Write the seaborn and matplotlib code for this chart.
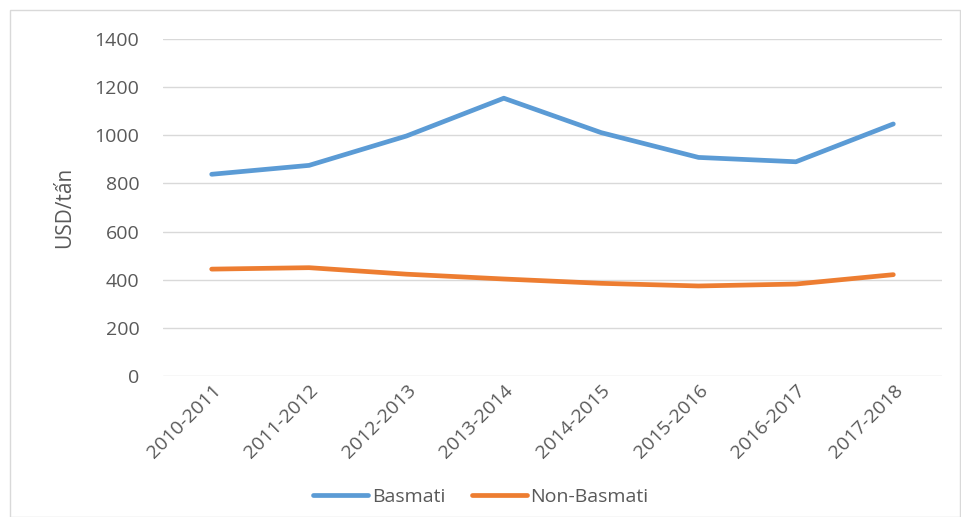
import numpy as np
import pandas as pd
import matplotlib.pyplot as plt
import seaborn as sns
from matplotlib.patches import Rectangle

seasons = ['2010-2011', '2011-2012', '2012-2013', '2013-2014',
           '2014-2015', '2015-2016', '2016-2017', '2017-2018']
basmati = [838, 875, 997, 1154, 1011, 908, 890, 1047]
non_basmati = [444, 450, 423, 403, 385, 374, 382, 421]

df = pd.DataFrame({'season': seasons * 2,
                   'price': basmati + non_basmati,
                   'type': ['Basmati'] * 8 + ['Non-Basmati'] * 8})

sns.set_style('white')
plt.rcParams['font.family'] = ['Open Sans', 'DejaVu Sans']
grey = '#595959'

fig = plt.figure(figsize=(9.62, 5.17), dpi=100)
ax = fig.add_axes([163 / 962, 1 - 376 / 517, (942 - 163) / 962, (376 - 39) / 517])

sns.lineplot(data=df, x='season', y='price', hue='type', sort=False,
             palette=['#5b9bd5', '#ed7d31'], linewidth=3.4, ax=ax,
             solid_capstyle='round')

ax.set_ylim(0, 1400)
ax.set_xlim(-0.5, 7.5)
ax.set_yticks(np.arange(0, 1401, 200))
ax.yaxis.grid(True, color='#d9d9d9', linewidth=1)
ax.set_axisbelow(True)
for s in ax.spines.values():
    s.set_visible(False)
ax.tick_params(axis='both', length=0, colors=grey, labelsize=14)
ax.tick_params(axis='y', pad=17)
ax.tick_params(axis='x', pad=4)
plt.setp(ax.get_xticklabels(), rotation=45, ha='right', rotation_mode='anchor')
ax.set_xlabel('')
ax.set_ylabel('USD/tấn', color=grey, fontsize=15, labelpad=14)

leg = ax.legend(loc='center', bbox_to_anchor=(0.5, (517 - 497) / 517), bbox_transform=fig.transFigure,
                ncol=2, frameon=False, fontsize=14, handlelength=2.8, handletextpad=0.2,
                columnspacing=1.4)
for t in leg.get_texts():
    t.set_color(grey)

fig.patches.append(Rectangle((10 / 962, 0), 950 / 962, 1 - 10 / 517, transform=fig.transFigure,
                             fill=False, edgecolor='#d9d9d9', linewidth=1))

fig.savefig('out.png', dpi=100)
